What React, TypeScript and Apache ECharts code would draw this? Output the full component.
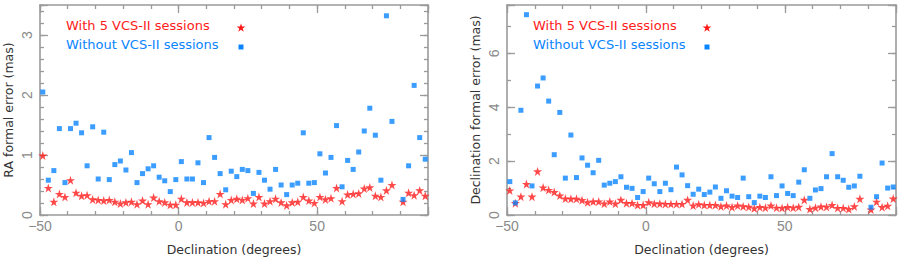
import React, { useEffect, useRef } from 'react';
import * as echarts from 'echarts';

// Declination bin centres (degrees) shared by both panels
const declination = [
  -49, -47, -45, -43, -41, -39, -37, -35, -33, -31, -29, -27, -25, -23, -21, -19, -17, -15, -13, -11,
  -9, -7, -5, -3, -1, 1, 3, 5, 7, 9, 11, 13, 15, 17, 19,
  21, 23, 25, 27, 29, 31, 33, 35, 37, 39, 41, 43, 45, 47, 49, 51, 53, 55, 57, 59,
  61, 63, 65, 67, 69, 71, 73, 75, 77, 81, 83, 85, 87, 89,
];

// RA formal error (mas)
const raWithVcs = [
  0.99, 0.45, 0.22, 0.35, 0.30, 0.58, 0.37, 0.32, 0.33, 0.26, 0.25, 0.24, 0.25, 0.22, 0.19, 0.21, 0.22, 0.18, 0.24, 0.18,
  0.29, 0.23, 0.21, 0.17, 0.17, 0.27, 0.21, 0.21, 0.21, 0.20, 0.23, 0.23, 0.35, 0.18, 0.25,
  0.27, 0.25, 0.28, 0.19, 0.30, 0.19, 0.23, 0.27, 0.21, 0.16, 0.21, 0.22, 0.30, 0.24, 0.20, 0.30, 0.26, 0.28, 0.45, 0.23,
  0.34, 0.35, 0.36, 0.44, 0.46, 0.32, 0.30, 0.41, 0.50, 0.22, 0.37, 0.33, 0.41, 0.32,
];
const raWithoutVcs = [
  2.05, 0.58, 0.74, 1.44, 0.54, 1.44, 1.53, 1.37, 0.82, 1.47, 0.60, 1.38, 0.59, 0.84, 0.90, 0.75, 1.04, 0.54, 0.69, 0.77,
  0.82, 0.63, 0.57, 0.39, 0.59, 0.89, 0.60, 0.60, 0.87, 0.54, 1.29, 0.96, 0.69, 0.42, 0.73,
  0.64, 0.76, 0.74, 0.36, 0.71, 0.58, 0.43, 0.76, 0.50, 0.34, 0.50, 0.53, 1.37, 0.53, 0.54, 1.02, 0.70, 0.96, 1.49, 0.47,
  0.91, 0.76, 1.05, 1.40, 1.78, 1.33, 0.58, 3.32, 1.56, 0.26, 0.82, 2.16, 1.29, 0.93,
];

// Declination formal error (mas)
const decWithVcs = [
  0.91, 0.44, 0.68, 1.15, 0.68, 1.62, 1.02, 0.93, 0.85, 0.72, 0.61, 0.60, 0.60, 0.55, 0.47, 0.50, 0.50, 0.42, 0.50, 0.42,
  0.56, 0.44, 0.44, 0.37, 0.37, 0.47, 0.42, 0.42, 0.41, 0.41, 0.41, 0.41, 0.56, 0.35, 0.40,
  0.37, 0.37, 0.37, 0.32, 0.35, 0.29, 0.35, 0.32, 0.30, 0.25, 0.29, 0.27, 0.35, 0.27, 0.26, 0.29, 0.27, 0.30, 0.56, 0.22,
  0.27, 0.31, 0.30, 0.37, 0.26, 0.26, 0.22, 0.32, 0.60, 0.20, 0.49, 0.29, 0.34, 0.61,
];
const decWithoutVcs = [
  1.24, 0.45, 3.89, 7.44, 1.08, 4.79, 5.09, 4.23, 2.24, 3.81, 1.37, 2.97, 1.39, 2.12, 1.85, 1.57, 2.03, 1.11, 1.18, 1.24,
  1.42, 1.03, 0.99, 0.65, 0.87, 1.37, 1.16, 0.87, 1.18, 0.94, 1.78, 1.49, 1.09, 0.77, 0.96,
  0.76, 0.85, 1.04, 0.62, 0.90, 0.70, 0.65, 1.37, 0.68, 0.46, 0.70, 0.65, 1.42, 0.72, 1.08, 0.80, 0.72, 1.22, 1.68, 0.62,
  0.93, 0.98, 1.42, 2.28, 1.42, 1.29, 1.03, 1.08, 1.44, 0.29, 0.68, 1.93, 1.00, 1.04,
];

const legendLabels = ['With 5 VCS-II sessions', 'Without VCS-II sessions'];
const xTitle = 'Declination (degrees)';
const yTitles = ['RA formal error (mas)', 'Declination formal error (mas)'];

const RED = '#ff1a1a';
const BLUE = '#0a84ff';
const AXIS = '#9a9a9a';
const LABEL = '#8a8a8a';
const FONT = 'Liberation Sans, Arial, sans-serif';
const TFONT = 'DejaVu Sans, sans-serif';
const STAR =
  'path://M50,0 L61.2,34.5 L97.6,34.5 L68.2,55.9 L79.4,90.5 L50,69.1 L20.6,90.5 L31.8,55.9 L2.4,34.5 L38.8,34.5 Z';

const minus = (v: number) => (v < 0 ? '\u2212' + Math.abs(v) : String(v));

function starPoints(cx: number, cy: number, r: number) {
  const pts: number[][] = [];
  for (let i = 0; i < 10; i++) {
    const rad = i % 2 === 0 ? r : r * 0.4;
    const a = -Math.PI / 2 + (i * Math.PI) / 5;
    pts.push([cx + rad * Math.cos(a), cy + rad * Math.sin(a)]);
  }
  return pts;
}

export default function App() {
  const ref = useRef<HTMLDivElement>(null);
  useEffect(() => {
    document.body.style.margin = '0';
    if (!ref.current) return;
    const chart = echarts.init(ref.current, undefined, { renderer: 'svg' });

    const grids = [
      { left: 40, top: 5, width: 388, height: 210 },
      { left: 507, top: 5, width: 389, height: 210 },
    ];
    const yCfg = [
      { max: 3.5, major: 1, minor: 0.2 },
      { max: 7.8, major: 2, minor: 1 },
    ];
    const tickLine = { color: AXIS, width: 1.3 };
    const xAxes: any[] = [];
    const yAxes: any[] = [];
    grids.forEach((_, g) => {
      const base = { type: 'value', gridIndex: g, min: -50, max: 90, splitLine: { show: false } };
      (['bottom', 'top'] as const).forEach((pos) => {
        xAxes.push({
          ...base, position: pos, interval: 10,
          axisLine: { show: false, onZero: false },
          axisTick: { inside: true, length: 4, lineStyle: tickLine },
          axisLabel: { show: false },
        });
        xAxes.push({
          ...base, position: pos, interval: 50,
          axisLine: { show: true, onZero: false, lineStyle: { color: AXIS, width: 1.6 } },
          axisTick: { inside: true, length: 8, lineStyle: tickLine },
          axisLabel: pos === 'bottom'
            ? { show: true, margin: 4, color: LABEL, fontSize: 14, fontFamily: FONT,
                formatter: (v: number) => (v % 50 === 0 ? minus(v) : '') }
            : { show: false },
          ...(pos === 'bottom'
            ? { name: xTitle, nameLocation: 'middle', nameGap: 28,
                nameTextStyle: { color: '#333', fontSize: 12.5, fontFamily: TFONT } }
            : {}),
        });
      });
      const yb = { type: 'value', gridIndex: g, min: 0, max: yCfg[g].max, splitLine: { show: false } };
      (['left', 'right'] as const).forEach((pos) => {
        yAxes.push({
          ...yb, position: pos, interval: yCfg[g].minor,
          axisLine: { show: false, onZero: false },
          axisTick: { inside: true, length: 4, lineStyle: tickLine },
          axisLabel: { show: false },
        });
        yAxes.push({
          ...yb, position: pos, interval: yCfg[g].major,
          axisLine: { show: true, onZero: false, lineStyle: { color: AXIS, width: 1.6 } },
          axisTick: { inside: true, length: 8, lineStyle: tickLine },
          axisLabel: pos === 'left'
            ? { show: true, rotate: 90, margin: 6, color: LABEL, fontSize: 14, fontFamily: FONT,
                formatter: (v: number) => (Math.abs(v / yCfg[g].major - Math.round(v / yCfg[g].major)) < 1e-6 ? String(v) : '') }
            : { show: false },
          ...(pos === 'left'
            ? { name: yTitles[g], nameLocation: 'middle', nameGap: 25,
                nameTextStyle: { color: '#333', fontSize: 12.5, fontFamily: TFONT } }
            : {}),
        });
      });
    });

    const mk = (arr: number[]) => declination.map((d, i) => [d, arr[i]]);
    const series: any[] = [];
    const panels = [
      [raWithVcs, raWithoutVcs],
      [decWithVcs, decWithoutVcs],
    ];
    panels.forEach(([withV, withoutV], g) => {
      series.push({
        type: 'scatter', xAxisIndex: g * 4 + 1, yAxisIndex: g * 4 + 1, data: mk(withV),
        symbol: STAR, symbolSize: 9, itemStyle: { color: RED }, z: 2,
      });
      series.push({
        type: 'scatter', xAxisIndex: g * 4 + 1, yAxisIndex: g * 4 + 1, data: mk(withoutV),
        symbol: 'rect', symbolSize: 5, itemStyle: { color: BLUE }, z: 3,
      });
    });

    const graphic: any[] = [];
    [66, 533].forEach((tx, g) => {
      const mx = g === 0 ? 241 : 707;
      graphic.push({ type: 'text', left: tx, top: 19, style: { text: legendLabels[0], fill: RED, font: `13px ${TFONT}` } });
      graphic.push({ type: 'text', left: tx, top: 38, style: { text: legendLabels[1], fill: BLUE, font: `13px ${TFONT}` } });
      graphic.push({ type: 'polygon', shape: { points: starPoints(mx, 28, 4.6) }, style: { fill: RED } });
      graphic.push({ type: 'rect', shape: { x: mx - 2.5, y: 44.5, width: 5, height: 5 }, style: { fill: BLUE } });
    });

    chart.setOption({
      animation: false,
      backgroundColor: '#fff',
      grid: grids,
      xAxis: xAxes,
      yAxis: yAxes,
      series,
      graphic,
    });
    return () => chart.dispose();
  }, []);
  return <div ref={ref} style={{ width: 899, height: 261 }} />;
}
